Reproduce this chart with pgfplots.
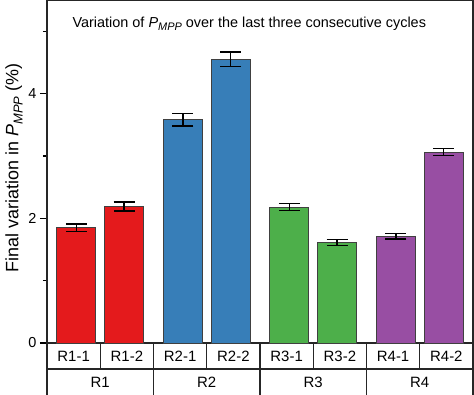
\documentclass[border=0pt]{standalone}
\usepackage{fontspec}
\setmainfont{Liberation Sans}
\usepackage{pgfplots}
\pgfplotsset{compat=1.18}
\definecolor{cR}{RGB}{228,26,28}
\definecolor{cB}{RGB}{55,126,184}
\definecolor{cG}{RGB}{77,175,74}
\definecolor{cP}{RGB}{152,78,163}
\newcommand{\Pmpp}[1]{\textit{P}\raisebox{-0.45ex}{\fontsize{#1}{#1}\selectfont\textit{MPP}}}
\begin{document}
\begin{tikzpicture}
\begin{axis}[
  scale only axis, width=426bp, height=343bp,
  xmin=0, xmax=8, ymin=0, ymax=5.5,
  xtick=\empty,
  ytick={0,2,4}, minor ytick={1,3,5},
  ytick pos=left, tick align=outside,
  major tick length=7bp, minor tick length=4bp,
  every tick/.style={black, line width=1.2bp},
  axis line style={line width=1.3bp, black!85},
  clip=false,
  ylabel={Final variation in \Pmpp{13} (\%)},
  ylabel style={font=\fontsize{18}{20}\selectfont, at={(axis description cs:-0.0775,0.51)}, anchor=center},
  yticklabel style={font=\fontsize{14.5}{16}\selectfont, /pgf/number format/assume math mode=true},
  ybar, bar width=39bp,
  error bars/y dir=both, error bars/y explicit,
  error bars/error bar style={line width=1.5bp, black},
  error bars/error mark options={rotate=90, mark size=10.5bp, line width=1.5bp, black},
]
\addplot[bar shift=0pt, fill=cR, draw=black!75, line width=0.9bp] coordinates {(0.55,1.85) +- (0,0.06) (1.45,2.19) +- (0,0.07)};
\addplot[bar shift=0pt, fill=cB, draw=black!75, line width=0.9bp] coordinates {(2.55,3.58) +- (0,0.10) (3.45,4.55) +- (0,0.12)};
\addplot[bar shift=0pt, fill=cG, draw=black!75, line width=0.9bp] coordinates {(4.55,2.18) +- (0,0.055) (5.45,1.61) +- (0,0.05)};
\addplot[bar shift=0pt, fill=cP, draw=black!75, line width=0.9bp] coordinates {(6.55,1.71) +- (0,0.045) (7.45,3.06) +- (0,0.055)};
% category table
\draw[line width=1.3bp, black!85] (axis cs:0,0) ++(0,-26bp) -- ++(426bp,0);
\pgfplotsinvokeforeach{0,2,4,6,8}{\draw[line width=1.3bp, black!85] (axis cs:#1,0) -- ++(0,-52bp);}
\pgfplotsinvokeforeach{1,3,5,7}{\draw[line width=1.3bp, black!85] (axis cs:#1,0) -- ++(0,-26bp);}
\node[font=\fontsize{15}{17}\selectfont] at ([yshift=-13bp]axis cs:0.5,0) {R1-1};
\node[font=\fontsize{15}{17}\selectfont] at ([yshift=-13bp]axis cs:1.5,0) {R1-2};
\node[font=\fontsize{15}{17}\selectfont] at ([yshift=-13bp]axis cs:2.5,0) {R2-1};
\node[font=\fontsize{15}{17}\selectfont] at ([yshift=-13bp]axis cs:3.5,0) {R2-2};
\node[font=\fontsize{15}{17}\selectfont] at ([yshift=-13bp]axis cs:4.5,0) {R3-1};
\node[font=\fontsize{15}{17}\selectfont] at ([yshift=-13bp]axis cs:5.5,0) {R3-2};
\node[font=\fontsize{15}{17}\selectfont] at ([yshift=-13bp]axis cs:6.5,0) {R4-1};
\node[font=\fontsize{15}{17}\selectfont] at ([yshift=-13bp]axis cs:7.5,0) {R4-2};
\node[font=\fontsize{15}{17}\selectfont] at ([yshift=-39bp]axis cs:1,0) {R1};
\node[font=\fontsize{15}{17}\selectfont] at ([yshift=-39bp]axis cs:3,0) {R2};
\node[font=\fontsize{15}{17}\selectfont] at ([yshift=-39bp]axis cs:5,0) {R3};
\node[font=\fontsize{15}{17}\selectfont] at ([yshift=-39bp]axis cs:7,0) {R4};
\node[anchor=base west, font=\fontsize{14.5}{16}\selectfont] at ([xshift=22bp,yshift=-27.5bp]rel axis cs:0,1)
  {Variation of \Pmpp{11} over the last three consecutive cycles};
\end{axis}
\pgfresetboundingbox
\path[use as bounding box] (-47bp,-52bp) rectangle (427bp,343bp);
\end{tikzpicture}
\end{document}
